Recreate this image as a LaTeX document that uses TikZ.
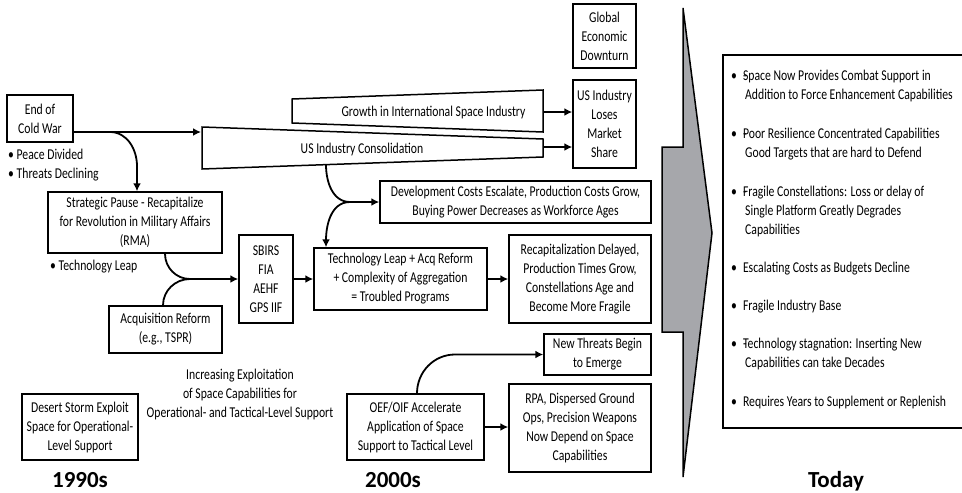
\documentclass[tikz,border=0pt]{standalone}
\usepackage{fontspec}
\setmainfont{Carlito}[FakeStretch=0.78]
\newfontfamily\yearfont{Carlito}
\usetikzlibrary{arrows.meta}
\definecolor{arrowgray}{RGB}{166,167,171}

\begin{document}
\begin{tikzpicture}[x=1pt,y=-1pt,font=\fontsize{15}{19}\selectfont]

\useasboundingbox (0,0) rectangle (962,493);

%%% Styles

\tikzstyle{box}=[draw, line width=1.5pt, align=center, inner sep=0pt]

\tikzstyle{link}=[-{Latex[length=8pt,width=8pt]}, line width=1.8pt]

\tikzstyle{year}=[anchor=base, inner sep=0pt, font=\yearfont\bfseries\fontsize{23}{23}\selectfont]

\tikzstyle{note}=[anchor=base west, align=left, inner sep=0pt]


%%% Today Arrow

\filldraw[fill=arrowgray, line width=1.5pt] (683,8) -- (712,233) -- (683,477) -- (683,332) -- (662,332) -- (662,147) -- (683,147) -- cycle;


%%% 1990s

\node (cold) [box, minimum width=66pt, minimum height=47pt] at (40,118.5) {End of\\Cold War};

\node (coldnotes) [note] at (8,178.5) {\textbullet\ Peace Divided\\\textbullet\ Threats Declining};

\node (pause) [box, minimum width=174pt, minimum height=61pt] at (135,222.5)
      {Strategic Pause - Recapitalize\\for Revolution in Military Affairs\\(RMA)};

\node (pausenote) [note] at (50,270.5) {\textbullet\ Technology Leap};

\node (acq) [box, minimum width=113pt, minimum height=47pt] at (165.5,329.5) {Acquisition Reform\\(e.g., TSPR)};

\node (desert) [box, minimum width=116pt, minimum height=66pt] at (80,427)
      {Desert Storm Exploit\\Space for Operational-\\Level Support};

\node (exploit) [align=center, inner sep=0pt] at (240,394)
      {Increasing Exploitation\\of Space Capabilities for\\Operational- and Tactical-Level Support};


%%% Industry Bars

\draw[line width=1.5pt] (292,99) -- (543,90) -- (543,132) -- (292,123) -- cycle;

\node (growth) [inner sep=0pt] at (433.5,112) {Growth in International Space Industry};

\draw[line width=1.5pt] (202,127) -- (543,139) -- (543,157) -- (202,169) -- cycle;

\node (cons) [inner sep=0pt] at (362,149) {US Industry Consolidation};

\coordinate (growthE) at (543,112);
\coordinate (consE) at (543,147);
\coordinate (consW) at (201,132);
\coordinate (consS) at (326,164.6);


%%% 2000s

\node (global) [box, minimum width=63pt, minimum height=64pt] at (604.5,36) {Global\\Economic\\Downturn};

\node (loses) [box, minimum width=63pt, minimum height=88pt] at (604.5,124) {US Industry\\Loses\\Market\\Share};

\node (dev) [box, minimum width=271pt, minimum height=42pt] at (515.5,202)
      {Development Costs Escalate, Production Costs Grow,\\Buying Power Decreases as Workforce Ages};

\node (sbirs) [box, minimum width=54pt, minimum height=88pt] at (266,279) {SBIRS\\FIA\\AEHF\\GPS IIF};

\node (tech) [box, minimum width=173pt, minimum height=62pt] at (400.5,279)
      {Technology Leap + Acq Reform\\+ Complexity of Aggregation\\= Troubled Programs};

\node (recap) [box, minimum width=142pt, minimum height=88pt] at (580,279)
      {Recapitalization Delayed,\\Production Times Grow,\\Constellations Age and\\Become More Fragile};

\node (threats) [box, minimum width=107pt, minimum height=41pt] at (597.5,354.5) {New Threats Begin\\to Emerge};

\node (oef) [box, minimum width=137pt, minimum height=66pt] at (415.5,427)
      {OEF/OIF Accelerate\\Application of Space\\Support to Tactical Level};

\node (rpa) [box, minimum width=142pt, minimum height=88pt] at (580,428)
      {RPA, Dispersed Ground\\Ops, Precision Weapons\\Now Depend on Space\\Capabilities};


%%% Today

\draw[line width=1.5pt] (966,55) -- (723,55) -- (723,428) -- (966,428);

\node (t1) [note] at (731,99.5) {\textbullet\hspace{6pt}\rlap{-}Space Now Provides Combat Support in\\\hspace{14pt}Addition to Force Enhancement Capabilities};

\node (t2) [note] at (731,157.5) {\textbullet\hspace{6pt}\rlap{-}Poor Resilience Concentrated Capabilities\\\hspace{14pt}Good Targets that are hard to Defend};

\node (t3) [note] at (731,234.5) {\textbullet\hspace{6pt}\rlap{-}Fragile Constellations: Loss or delay of\\\hspace{14pt}Single Platform Greatly Degrades\\\hspace{14pt}Capabilities};

\node (t4) [note] at (731,272.5) {\textbullet\hspace{6pt}Escalating Costs as Budgets Decline};

\node (t5) [note] at (731,310.5) {\textbullet\hspace{6pt}Fragile Industry Base};

\node (t6) [note] at (731,367.5) {\textbullet\hspace{6pt}\rlap{-}Technology stagnation: Inserting New\\\hspace{14pt}Capabilities can take Decades};

\node (t7) [note] at (731,406.5) {\textbullet\hspace{6pt}Requires Years to Supplement or Replenish};


%%% Decades

\node (y1990) [year] at (80,487.5) {1990s};

\node (y2000) [year] at (393,487.5) {2000s};

\node (today) [year] at (836,487.5) {Today};


%%% Connectors

\coordinate (coldsplit) at (110,132);
\coordinate (sbirsjoin) at (190,279);
\coordinate (devjoin) at (350,202);
\coordinate (threatjoin) at (455,354.5);

\draw[link] ([yshift=-13.5pt]cold.east) -- (consW);

\draw[link] (coldsplit) to[out=0,in=90] ([xshift=2pt,yshift=25pt]pause.north) -- ([xshift=2pt]pause.north);

\draw[line width=1.8pt] ([xshift=30pt]pause.south) to[out=-90,in=180] (sbirsjoin);

\draw[line width=1.8pt] ([xshift=-2.5pt]acq.north) to[out=90,in=180] (sbirsjoin);

\draw[link] (sbirsjoin) -- (sbirs.west);

\draw[link] (sbirs.east) -- (tech.west);

\draw[link] (tech.east) -- (recap.west);

\draw[link] (consS) to[out=-90,in=180] (devjoin) -- (dev.west);

\draw[link] (devjoin) to[out=180,in=90] ([xshift=-74.5pt]tech.north);

\draw[link] (growthE) -- ([yshift=12pt]loses.west);

\draw[link] (consE) -- ([yshift=-23pt]loses.west);

\draw[link] ([xshift=1.5pt]oef.north) to[out=90,in=180] (threatjoin) -- (threats.west);

\draw[link] (oef.east) -- ([yshift=1pt]rpa.west);

\end{tikzpicture}
\end{document}
